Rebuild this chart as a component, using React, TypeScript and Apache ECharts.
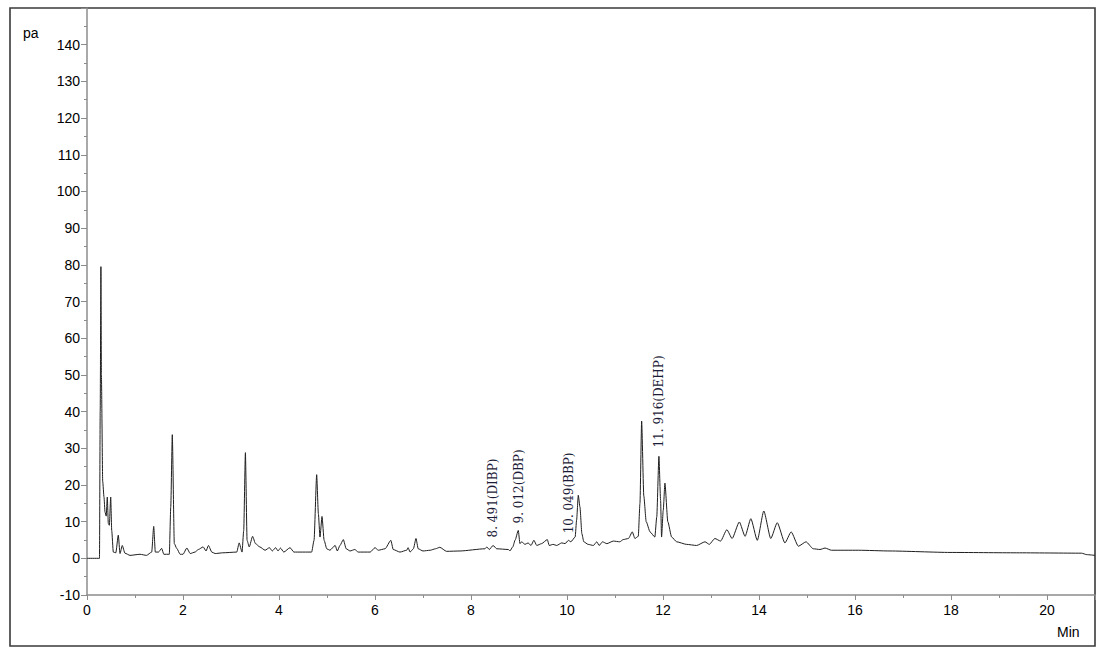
import React, { useEffect, useRef } from "react";
import * as echarts from "echarts";

// Retention time (min)
const times = [
  0, 0.26, 0.275, 0.29, 0.3, 0.327, 0.354, 0.375, 0.4, 0.423, 0.444, 0.465, 0.494, 0.515, 0.548, 0.6,
  0.652, 0.6875, 0.735, 0.79, 0.896, 1.104, 1.24, 1.348, 1.39, 1.423, 1.49, 1.556, 1.6, 1.715, 1.745,
  1.777, 1.819, 1.87, 1.94, 2.0, 2.08, 2.15, 2.25, 2.32, 2.42, 2.48, 2.53, 2.6, 2.67, 2.83, 3.12, 3.17,
  3.23, 3.265, 3.3, 3.335, 3.38, 3.45, 3.51, 3.6, 3.71, 3.8, 3.86, 3.93, 3.98, 4.03, 4.1, 4.23, 4.31,
  4.68, 4.73, 4.785, 4.82, 4.854, 4.896, 4.94, 4.995, 5.06, 5.17, 5.215, 5.27, 5.34, 5.4, 5.48, 5.58,
  5.65, 5.9, 6.0, 6.07, 6.21, 6.33, 6.38, 6.52, 6.66, 6.69, 6.73, 6.8, 6.854, 6.9, 7.0, 7.15, 7.26,
  7.35, 7.49, 7.77, 8.29, 8.33, 8.38, 8.46, 8.535, 8.78, 8.81, 8.87, 8.92, 8.985, 9.02, 9.055, 9.125,
  9.19, 9.25, 9.31, 9.37, 9.47, 9.59, 9.63, 9.71, 9.785, 9.89, 9.96, 10.03, 10.08, 10.17, 10.2, 10.235,
  10.27, 10.31, 10.35, 10.44, 10.55, 10.62, 10.67, 10.74, 10.83, 10.965, 11.1, 11.17, 11.28, 11.36,
  11.415, 11.485, 11.52, 11.555, 11.6, 11.65, 11.73, 11.83, 11.87, 11.915, 11.95, 11.97, 12.005,
  12.04, 12.1, 12.18, 12.285, 12.49, 12.7, 12.875, 12.965, 13.08, 13.2, 13.33, 13.44, 13.59, 13.71,
  13.83, 13.965, 14.1, 14.245, 14.38, 14.54, 14.67, 14.82, 14.98, 15.13, 15.27, 15.375, 15.51, 16.07,
  16.73, 17.98, 19.37, 20.72, 20.83, 21.0,
];

// Signal (pa)
const signal = [
  0, 0, 40, 79.5, 50, 21, 16.7, 12.6, 11.5, 16.7, 9.5, 9.0, 16.7, 7.6, 1.7, 1.5,
  6.3, 1.3, 3.5, 1.4, 0.8, 1.1, 0.8, 1.7, 8.7, 1.7, 1.7, 2.7, 1.1, 1.1, 14,
  33.7, 4.0, 2.7, 1.1, 1.1, 2.8, 1.3, 1.7, 2.4, 3.1, 2.0, 3.5, 1.7, 1.3, 1.5, 1.7, 4.2,
  1.7, 7.6, 28.8, 4.9, 3.1, 6.0, 4.0, 3.1, 2.2, 2.9, 2.0, 2.9, 2.0, 2.8, 1.7, 2.9, 1.7,
  1.7, 4.9, 22.8, 12.2, 5.8, 11.4, 4.9, 2.6, 2.2, 3.5, 2.0, 3.5, 5.1, 2.6, 2.0, 2.4,
  1.7, 1.7, 2.9, 2.2, 2.6, 4.9, 2.4, 1.7, 2.2, 2.9, 1.7, 2.6, 5.4, 2.6, 2.0, 2.2, 2.6,
  3.0, 1.9, 2.0, 2.6, 3.1, 2.4, 3.5, 2.6, 2.4, 2.0, 3.1, 5.0, 7.6, 4.0, 4.5, 3.8,
  4.2, 3.5, 4.9, 3.5, 4.0, 5.1, 3.5, 3.8, 3.5, 4.2, 4.0, 4.9, 4.5, 5.8, 10.4, 17.2,
  14.0, 6.7, 4.5, 3.8, 3.5, 4.5, 3.5, 4.5, 4.0, 4.7, 4.5, 5.1, 5.4, 7.2,
  5.4, 6.0, 15, 37.4, 17, 10, 7.2, 5.8, 11.3, 27.8, 15.8, 5.8, 13.1,
  20.5, 10, 5.8, 4.5, 3.8, 3.5, 4.5, 3.8, 5.4, 4.7, 7.8, 5.4, 9.9, 6.0,
  10.8, 4.9, 12.9, 5.4, 9.7, 4.2, 7.2, 3.3, 4.5, 2.6, 2.4, 2.8, 2.2, 2.2,
  2.0, 1.6, 1.5, 1.4, 1.0, 0.8,
];

// Peak annotations: [time, signal at text start, text]
const peakTimes = [8.46, 9.0, 10.04, 11.92];
const peakLabelBase = [5.7, 9.5, 6.8, 30.2];
const peakTexts = ["8. 491(DIBP)", "9. 012(DBP)", "10. 049(BBP)", "11. 916(DEHP)"];

export default function App() {
  const ref = useRef<HTMLDivElement>(null);

  useEffect(() => {
    if (!ref.current) return;
    const chart = echarts.init(ref.current, null, { renderer: "svg" });
    const data = times.map((t, i) => [t, signal[i]]);
    const axisFont = { color: "#000", fontFamily: "Liberation Sans, Arial, sans-serif", fontSize: 14 };
    chart.setOption({
      animation: false,
      backgroundColor: "#fff",
      grid: { left: 87, top: 8, right: 15, bottom: 61, containLabel: false },
      xAxis: {
        type: "value",
        min: 0,
        max: 21,
        interval: 2,
        axisLine: { show: true, onZero: false, lineStyle: { color: "#8c8c8c", width: 1.5 } },
        axisTick: { show: true, length: 5, lineStyle: { color: "#8c8c8c" } },
        minorTick: { show: true, splitNumber: 2, length: 3, lineStyle: { color: "#8c8c8c" } },
        splitLine: { show: false },
        axisLabel: { ...axisFont, margin: 8, showMaxLabel: false },
      },
      yAxis: {
        type: "value",
        min: -10,
        max: 150,
        interval: 10,
        axisLine: { show: true, onZero: false, lineStyle: { color: "#8c8c8c", width: 1.5 } },
        axisTick: { show: true, length: 6, lineStyle: { color: "#8c8c8c" } },
        minorTick: { show: true, splitNumber: 2, length: 3, lineStyle: { color: "#8c8c8c" } },
        splitLine: { show: false },
        axisLabel: { ...axisFont, margin: 7, showMaxLabel: false },
      },
      series: [
        {
          type: "line",
          data,
          showSymbol: false,
          symbol: "none",
          smooth: 0.2,
          smoothMonotone: "x",
          lineStyle: { color: "#1e1e1e", width: 1 },
          markPoint: {
            symbol: "circle",
            symbolSize: 0,
            itemStyle: { color: "rgba(0,0,0,0)" },
            label: {
              show: true,
              position: "inside",
              rotate: 90,
              align: "left",
              verticalAlign: "middle",
              color: "#1c1c38",
              fontFamily: "DejaVu Serif, Liberation Serif, serif",
              fontSize: 12,
            },
            data: peakTimes.map((t, i) => ({
              coord: [t, peakLabelBase[i]],
              value: peakTexts[i],
              label: { formatter: peakTexts[i] },
            })),
          },
        },
      ],
      graphic: [
        {
          type: "rect",
          shape: { x: 10, y: 8, width: 1085, height: 638 },
          style: { fill: "none", stroke: "#3a3a3a", lineWidth: 1.6 },
          silent: true,
        },
        {
          type: "text",
          x: 23,
          y: 26,
          style: { text: "pa", fill: "#000", font: "14px Liberation Sans, Arial, sans-serif" },
        },
        {
          type: "text",
          x: 1057,
          y: 625,
          style: { text: "Min", fill: "#000", font: "14px Liberation Sans, Arial, sans-serif" },
        },
      ],
    });
    return () => chart.dispose();
  }, []);

  return (
    <div
      ref={ref}
      style={{ position: "absolute", left: 0, top: 0, width: 1110, height: 656, background: "#fff" }}
    />
  );
}
